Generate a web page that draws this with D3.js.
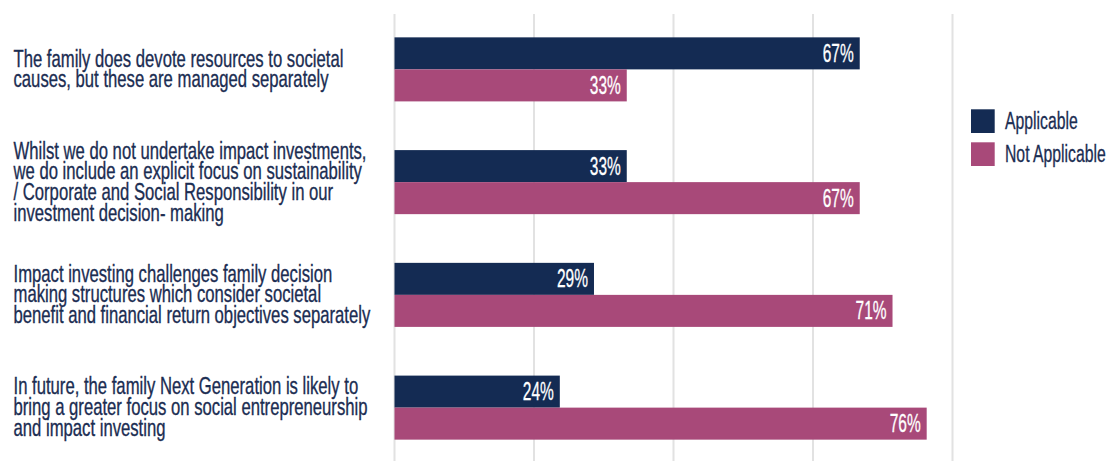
<!doctype html>
<html>
<head>
  <meta charset="utf-8">
  <style>
    body { margin: 0; background: #fff; }
    svg { display: block; }
    text { font-family: "Liberation Sans Narrow", "Liberation Sans", Arial, sans-serif; }
  </style>
  <script src="https://cdn.jsdelivr.net/npm/d3@7"></script>
</head>
<body>
  <script>
  // data (labels are rounded, bar lengths are not)
  var categories = [
    "The family does devote resources to societal\ncauses, but these are managed separately",
    "Whilst we do not undertake impact investments,\nwe do include an explicit focus on sustainability\n/ Corporate and Social Responsibility in our\ninvestment decision- making",
    "Impact investing challenges family decision\nmaking structures which consider societal\nbenefit and financial return objectives separately",
    "In future, the family Next Generation is likely to\nbring a greater focus on social entrepreneurship\nand impact investing"
  ];
  var series = ["Applicable", "Not Applicable"];
  var applicable = [66.7, 33.3, 28.6, 23.7];
  var notApplicable = [33.3, 66.7, 71.4, 76.3];
  var gridTicks = [0, 20, 40, 60, 80];

  var colors = ["#142b53", "#a84979"];
  var textColor = "#1b2d52";

  var W = 1112, H = 461;

  var svg = d3.select("body").append("svg")
      .attr("width", W)
      .attr("height", H);

  var x = d3.scaleLinear().domain([0, 100]).range([394.5, 1092]);

  var y = d3.scaleBand()
      .domain(categories)
      .range([13, 464])
      .paddingInner(0.432)
      .paddingOuter(0.216);

  var ySub = d3.scaleBand()
      .domain(series)
      .range([0, y.bandwidth()]);

  var color = d3.scaleOrdinal().domain(series).range(colors);

  // condensed look: squeeze the narrow font so it fits the widths seen in the picture
  function squeeze(str, size, target) {
    var t = svg.append("text").attr("font-size", size).text(str);
    var w = t.node().getComputedTextLength();
    t.remove();
    return target / w;
  }
  var kCat = squeeze("The family does devote resources to societal", 24, 330);
  var kBar = squeeze("67%", 25.5, 31);
  var kLeg = squeeze("Not Applicable", 23, 100.7);

  // grid
  svg.append("g").selectAll("line")
      .data(gridTicks)
      .enter().append("line")
      .attr("x1", function(d) { return x(d); })
      .attr("x2", function(d) { return x(d); })
      .attr("y1", 14)
      .attr("y2", H)
      .attr("stroke", "#e2e2e2")
      .attr("stroke-width", 2);

  var rows = categories.map(function(c, i) {
    return { cat: c, values: [applicable[i], notApplicable[i]] };
  });

  var group = svg.append("g").selectAll("g")
      .data(rows)
      .enter().append("g")
      .attr("transform", function(d) { return "translate(0," + y(d.cat) + ")"; });

  var bar = group.selectAll("g")
      .data(function(d) {
        return d.values.map(function(v, j) { return { key: series[j], value: v }; });
      })
      .enter().append("g");

  bar.append("rect")
      .attr("x", x(0))
      .attr("y", function(d) { return ySub(d.key); })
      .attr("width", function(d) { return x(d.value) - x(0); })
      .attr("height", ySub.bandwidth())
      .attr("fill", function(d) { return color(d.key); });

  bar.append("text")
      .attr("transform", function(d) {
        return "translate(" + (x(d.value) - 6) + "," + (ySub(d.key) + ySub.bandwidth() / 2 + 8.5) + ") scale(" + kBar + ",1)";
      })
      .attr("text-anchor", "end")
      .attr("font-size", 25.5)
      .attr("fill", "#fff")
      .attr("stroke", "#fff")
      .attr("stroke-width", 0.3)
      .text(function(d) { return Math.round(d.value) + "%"; });

  // category labels
  var lineH = 20.7, cap = 17;
  group.append("text")
      .attr("font-size", 24)
      .attr("fill", textColor)
      .attr("stroke", textColor)
      .attr("stroke-width", 0.35)
      .each(function(d) {
        var lines = d.cat.split("\n");
        var mid = y.bandwidth() / 2 - 1;
        var first = mid - (lines.length - 1) * lineH / 2 + cap / 2;
        var t = d3.select(this);
        lines.forEach(function(l, k) {
          t.append("tspan")
            .attr("x", 0)
            .attr("y", first + k * lineH)
            .text(l);
        });
      })
      .attr("transform", "translate(13.5,0) scale(" + kCat + ",1)");

  // legend
  var legend = svg.append("g").selectAll("g")
      .data(series)
      .enter().append("g")
      .attr("transform", function(d, i) { return "translate(971," + (109.3 + i * 33) + ")"; });

  legend.append("rect")
      .attr("width", 23.7)
      .attr("height", 23.7)
      .attr("fill", function(d) { return color(d); });

  legend.append("text")
      .attr("transform", "translate(34,20) scale(" + kLeg + ",1)")
      .attr("font-size", 23)
      .attr("fill", textColor)
      .attr("stroke", textColor)
      .attr("stroke-width", 0.3)
      .text(function(d) { return d; });
  </script>
</body>
</html>
